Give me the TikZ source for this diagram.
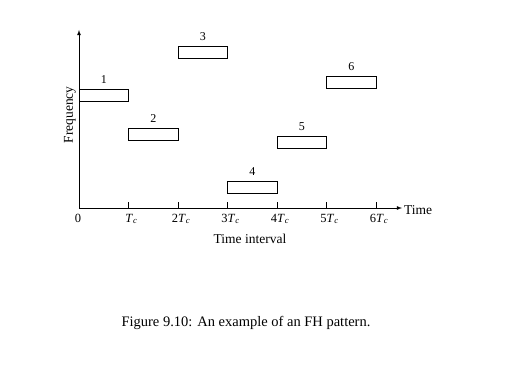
\documentclass[tikz,border=0pt]{standalone}
\usepackage{fontspec}
\setmainfont{Liberation Serif}
\usetikzlibrary{positioning}

\tikzset{
  hop/.style={draw, thick, minimum width=49.5pt, minimum height=12pt, inner sep=0pt},
  hoplabel/.style={font=\fontsize{12}{14}\selectfont, inner sep=1pt},
  ticklabel/.style={font=\fontsize{12.5}{15}\selectfont, inner sep=0pt, anchor=base},
  axislabel/.style={font=\fontsize{13.5}{16}\selectfont, inner sep=0pt}
}
\newcommand{\Tc}{\textit{T}\textsubscript{\textit{c}}}

\begin{document}
\begin{tikzpicture}[x=1pt, y=-1pt]
      \useasboundingbox (0,0) rectangle (524,366);

      % axes
      \coordinate (origin) at (79,208);
      \coordinate (ytop) at (79,30);
      \coordinate (xend) at (402,208);
      \draw[thick, -latex] (origin) -- (ytop);
      \draw[thick, -latex] (origin) -- (xend);
      \node[axislabel, anchor=west] (timelbl) at (404,210) {Time};
      \node[axislabel, rotate=90] (freqlbl) at (70,115) {Frequency};

      % ticks
      \node[ticklabel] (t0) at (78,222) {0};
      \foreach \k/\lab in {1/\Tc, 2/2\Tc, 3/3\Tc, 4/4\Tc, 5/5\Tc, 6/6\Tc} {
        \coordinate (tick\k) at ({79+49.5*\k},208);
        \draw[thick] (tick\k) -- ++(0,-6);
        \node[ticklabel] (t\k) at ({82+49.5*\k},222) {\lab};
      }
      \node[axislabel, anchor=base] (tint) at (250,243) {Time interval};

      % frequency hops
      \node[hop] (b1) at (103.75,95) {};
      \node[hop] (b2) at (153.25,134) {};
      \node[hop] (b3) at (202.75,52) {};
      \node[hop] (b4) at (252.25,187.5) {};
      \node[hop] (b5) at (301.75,142) {};
      \node[hop] (b6) at (351.25,82) {};

      \node[hoplabel, above=4pt of b1] (n1) {1};
      \node[hoplabel, above=4pt of b2] (n2) {2};
      \node[hoplabel, above=4pt of b3] (n3) {3};
      \node[hoplabel, above=4pt of b4] (n4) {4};
      \node[hoplabel, above=4pt of b5] (n5) {5};
      \node[hoplabel, above=4pt of b6] (n6) {6};

      % caption
      \node[font=\fontsize{14.5}{17}\selectfont, anchor=base] (caption) at (246,326) {Figure 9.10: An example of an FH pattern.};
    \end{tikzpicture}
\end{document}
